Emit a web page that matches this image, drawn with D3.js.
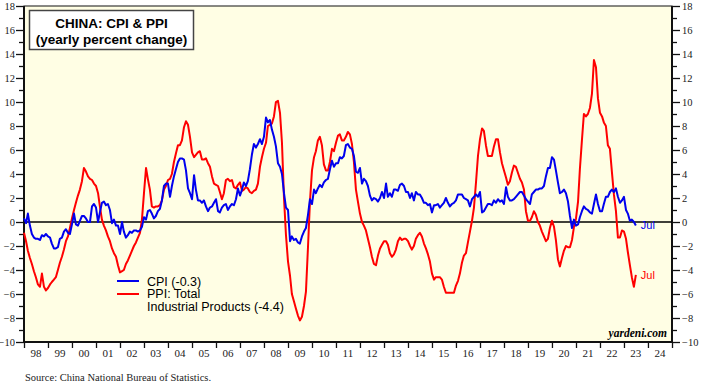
<!DOCTYPE html>
<html lang="en">
<head>
<meta charset="UTF-8">
<title>China: CPI & PPI</title>
<style>
body { margin: 0; background: #fff; }
svg { display: block; }
.tick text { font-family: "Liberation Serif", "Times New Roman", serif; font-size: 10.5px; fill: #222; }
</style>
</head>
<body>
<svg id="chart" width="704" height="392"></svg>
<script src="https://d3js.org/d3.v7.min.js"></script>
<script>
// monthly series, yearly percent change, starting Jan 1998
const startYear = 1998;
const cpi = [
  0.3, -0.1, 0.7, -0.3, -1.0, -1.3, -1.4, -1.4, -1.5, -1.1, -1.2, -1.0,   // 98
  -1.2, -1.3, -1.8, -2.2, -2.2, -2.1, -1.4, -1.3, -0.8, -0.6, -0.9, -1.0, // 99
  -0.2, 0.7, -0.2, -0.3, 0.1, 0.5, 0.5, 0.3, 0.0, 0.0, 1.3, 1.5,          // 00
  1.2, 0.0, 0.8, 1.6, 1.7, 1.4, 1.5, 1.0, -0.1, 0.2, -0.3, -0.3,          // 01
  -1.0, 0.0, -0.8, -1.3, -1.1, -0.8, -0.9, -0.7, -0.7, -0.8, -0.7, -0.4,  // 02
  0.4, 0.2, 0.9, 1.0, 0.7, 0.3, 0.5, 0.9, 1.1, 1.8, 3.0, 3.2,             // 03
  3.2, 2.1, 3.0, 3.8, 4.4, 5.0, 5.3, 5.3, 5.2, 4.3, 2.8, 2.4,             // 04
  1.9, 3.9, 2.7, 1.8, 1.8, 1.6, 1.8, 1.3, 0.9, 1.2, 1.3, 1.6,             // 05
  1.9, 0.9, 0.8, 1.2, 1.4, 1.5, 1.0, 1.3, 1.5, 1.4, 1.9, 2.8,             // 06
  2.2, 2.7, 3.3, 3.0, 3.4, 4.4, 5.6, 6.5, 6.2, 6.5, 6.9, 6.5,             // 07
  7.1, 8.7, 8.3, 8.5, 7.7, 7.1, 6.3, 4.9, 4.6, 4.0, 2.4, 1.2,             // 08
  1.0, -1.6, -1.2, -1.5, -1.4, -1.7, -1.8, -1.2, -0.8, -0.5, 0.6, 1.9,    // 09
  1.5, 2.7, 2.4, 2.8, 3.1, 2.9, 3.3, 3.5, 3.6, 4.4, 5.1, 4.6,             // 10
  4.9, 4.9, 5.4, 5.3, 5.5, 6.4, 6.5, 6.2, 6.1, 5.5, 4.2, 4.1,             // 11
  4.5, 3.2, 3.6, 3.4, 3.0, 2.2, 1.8, 2.0, 1.9, 1.7, 2.0, 2.5,             // 12
  2.0, 3.2, 2.1, 2.4, 2.1, 2.7, 2.7, 2.6, 3.1, 3.2, 3.0, 2.5,             // 13
  2.5, 2.0, 2.4, 1.8, 2.5, 2.3, 2.3, 2.0, 1.6, 1.6, 1.4, 1.5,             // 14
  0.8, 1.4, 1.4, 1.5, 1.2, 1.4, 1.6, 2.0, 1.6, 1.3, 1.5, 1.6,             // 15
  1.8, 2.3, 2.3, 2.3, 2.0, 1.9, 1.8, 1.3, 1.9, 2.1, 2.3, 2.1,             // 16
  2.5, 0.8, 0.9, 1.2, 1.5, 1.5, 1.4, 1.8, 1.6, 1.9, 1.7, 1.8,             // 17
  1.5, 2.9, 2.1, 1.8, 1.8, 1.9, 2.1, 2.3, 2.5, 2.5, 2.2, 1.9,             // 18
  1.7, 1.5, 2.3, 2.5, 2.7, 2.7, 2.8, 2.8, 3.0, 3.8, 4.5, 4.5,             // 19
  5.4, 5.2, 4.3, 3.3, 2.4, 2.5, 2.7, 2.4, 1.7, 0.5, -0.5, 0.2,            // 20
  -0.3, -0.2, 0.4, 0.9, 1.3, 1.1, 1.0, 0.8, 0.7, 1.5, 2.3, 1.5,           // 21
  0.9, 0.9, 1.5, 2.1, 2.1, 2.5, 2.7, 2.5, 2.8, 2.1, 1.6, 1.8,             // 22
  2.1, 1.0, 0.7, 0.1, 0.2, 0.0, -0.3                                      // 23
];
const ppi = [
  -0.9, -1.6, -2.4, -3.0, -3.5, -4.1, -4.6, -5.2, -5.4, -4.3, -5.4, -5.7, // 98
  -5.5, -5.2, -5.0, -4.8, -4.6, -4.0, -3.4, -2.9, -2.3, -1.6, -1.2, -0.5, // 99
  0.3, 1.0, 1.6, 2.2, 2.7, 3.4, 4.5, 4.2, 3.8, 3.6, 3.5, 3.2,             // 00
  3.0, 2.4, 1.3, 0.2, -0.3, -0.7, -1.2, -1.6, -2.2, -2.6, -2.9, -3.6,     // 01
  -4.2, -4.1, -4.0, -3.5, -3.2, -2.8, -2.4, -2.0, -1.7, -1.3, -0.9, 0.2,  // 02
  2.4, 4.5, 3.6, 2.7, 1.3, 1.2, 1.3, 1.3, 1.4, 1.8, 2.7, 3.0,             // 03
  3.5, 3.6, 4.0, 5.0, 5.7, 6.4, 6.4, 6.8, 7.9, 8.4, 8.1, 7.1,             // 04
  5.8, 5.4, 5.6, 5.8, 5.9, 5.2, 5.2, 5.3, 4.9, 4.6, 3.8, 3.2,             // 05
  3.1, 3.0, 2.5, 1.9, 2.4, 3.5, 3.6, 3.4, 3.5, 2.9, 2.8, 3.1,             // 06
  3.3, 2.6, 2.7, 2.9, 2.8, 2.5, 2.4, 2.6, 2.7, 3.2, 4.6, 5.4,             // 07
  6.1, 6.6, 8.0, 8.1, 8.2, 8.8, 10.0, 10.1, 9.1, 6.6, 2.0, -1.1,          // 08
  -3.3, -4.5, -6.0, -6.6, -7.2, -7.8, -8.2, -7.9, -7.0, -5.8, -2.1, 1.7,  // 09
  4.3, 5.4, 5.9, 6.8, 7.1, 6.4, 4.8, 4.3, 4.3, 5.0, 6.1, 5.9,             // 10
  6.6, 7.2, 7.3, 6.8, 6.8, 7.1, 7.5, 7.3, 6.5, 5.0, 2.7, 1.7,             // 11
  0.7, 0.0, -0.3, -0.7, -1.4, -2.1, -2.9, -3.5, -3.6, -2.8, -2.2, -1.9,   // 12
  -1.6, -1.6, -1.9, -2.6, -2.9, -2.7, -2.3, -1.6, -1.3, -1.5, -1.4, -1.4, // 13
  -1.6, -2.0, -2.3, -2.0, -1.4, -1.1, -0.9, -1.2, -1.8, -2.2, -2.7, -3.3, // 14
  -4.3, -4.8, -4.6, -4.6, -4.6, -4.8, -5.4, -5.9, -5.9, -5.9, -5.9, -5.9, // 15
  -5.3, -4.9, -4.3, -3.4, -2.8, -2.6, -1.7, -0.8, 0.1, 1.2, 3.3, 5.5,     // 16
  6.9, 7.8, 7.6, 6.4, 5.5, 5.5, 5.5, 6.3, 6.9, 6.9, 5.8, 4.9,             // 17
  4.3, 3.7, 3.1, 3.4, 4.1, 4.7, 4.6, 4.1, 3.6, 3.3, 2.7, 0.9,             // 18
  0.1, 0.1, 0.4, 0.9, 0.6, 0.0, -0.3, -0.8, -1.2, -1.6, -1.4, -0.5,       // 19
  0.1, -0.4, -1.5, -3.1, -3.7, -3.0, -2.4, -2.0, -2.1, -2.1, -1.5, -0.4,  // 20
  0.3, 1.7, 4.4, 6.8, 9.0, 8.8, 9.0, 9.5, 10.7, 13.5, 12.9, 10.3,         // 21
  9.1, 8.8, 8.3, 8.0, 6.4, 6.1, 4.2, 2.3, 0.9, -1.3, -1.3, -0.7,          // 22
  -0.8, -1.4, -2.5, -3.6, -4.6, -5.4, -4.4                                // 23
];
const yearLabels = ["98","99","00","01","02","03","04","05","06","07","08","09","10","11","12","13","14","15","16","17","18","19","20","21","22","23","24"];
const yTicks = d3.range(-10, 19, 2);

const svg = d3.select("#chart");
const plotL = 24, plotR = 672, plotT = 6, plotB = 342;

const x = d3.scaleTime()
    .domain([new Date(1998, 0, 1), new Date(2025, 0, 1)])
    .range([plotL, plotR]);
const y = d3.scaleLinear().domain([-10, 18]).range([plotB, plotT]);

// plot background
svg.append("rect")
    .attr("x", plotL).attr("y", plotT)
    .attr("width", plotR - plotL).attr("height", plotB - plotT)
    .attr("fill", "#fffee4");

// y axes (major even, minor odd)
function yAxis(side) {
    const isLeft = side === "left";
    const major = (isLeft ? d3.axisLeft(y) : d3.axisRight(y))
        .tickValues(yTicks).tickSize(8).tickPadding(isLeft ? 1 : 2)
        .tickFormat(d3.format("d"));
    const g = svg.append("g")
        .attr("transform", `translate(${isLeft ? plotL : plotR},0)`)
        .call(major);
    g.select(".domain").remove();
    const minor = (isLeft ? d3.axisLeft(y) : d3.axisRight(y))
        .tickValues(d3.range(-9, 18, 2)).tickSize(5).tickFormat("");
    const g2 = svg.append("g")
        .attr("transform", `translate(${isLeft ? plotL : plotR},0)`)
        .call(minor);
    g2.select(".domain").remove();
    svg.selectAll(".tick line").attr("stroke", "#111").attr("stroke-width", 1.3);
}
yAxis("left");
yAxis("right");

// x axis: ticks at year boundaries, labels centered in between
const years = d3.range(1998, 2026).map(v => new Date(v, 0, 1));
const xg = svg.append("g")
    .attr("transform", `translate(0,${plotB})`)
    .call(d3.axisBottom(x).tickValues(years).tickSize(6).tickFormat(""));
xg.select(".domain").remove();
xg.selectAll(".tick line").attr("stroke", "#111").attr("stroke-width", 1.3);

svg.append("g").selectAll("text")
    .data(yearLabels)
    .enter().append("text")
    .attr("x", (d, i) => x(new Date(1998 + i, 6, 1)))
    .attr("y", plotB + 15)
    .attr("text-anchor", "middle")
    .attr("font-family", "Liberation Serif, Times New Roman, serif")
    .attr("font-size", 11)
    .attr("fill", "#222")
    .text(d => d);

// frame
svg.append("rect")
    .attr("x", plotL).attr("y", plotT)
    .attr("width", plotR - plotL).attr("height", plotB - plotT)
    .attr("fill", "none").attr("stroke", "#111").attr("stroke-width", 1);
svg.append("line").attr("x1", plotL).attr("x2", plotL).attr("y1", plotT).attr("y2", plotB)
    .attr("stroke", "#111").attr("stroke-width", 2);
svg.append("line").attr("x1", plotR).attr("x2", plotR).attr("y1", plotT).attr("y2", plotB)
    .attr("stroke", "#111").attr("stroke-width", 2);
svg.append("line").attr("x1", plotL).attr("x2", plotR).attr("y1", plotB).attr("y2", plotB)
    .attr("stroke", "#111").attr("stroke-width", 2);

// zero line
svg.append("line")
    .attr("x1", plotL).attr("x2", plotR)
    .attr("y1", y(0)).attr("y2", y(0))
    .attr("stroke", "#000").attr("stroke-width", 1.5);

// series
const dateOf = i => new Date(startYear, i, 1);
const line = d3.line()
    .x((d, i) => x(dateOf(i)))
    .y(d => y(d));

svg.append("path").datum(ppi)
    .attr("d", line).attr("fill", "none")
    .attr("stroke", "#ff0000").attr("stroke-width", 2).attr("stroke-linejoin", "round");
svg.append("path").datum(cpi)
    .attr("d", line).attr("fill", "none")
    .attr("stroke", "#0000ee").attr("stroke-width", 2).attr("stroke-linejoin", "round");

// end labels
const endLabel = (arr, color) => svg.append("text")
    .attr("x", x(dateOf(arr.length - 1)) + 5)
    .attr("y", y(arr[arr.length - 1]))
    .attr("dy", "0.35em")
    .attr("font-family", "Liberation Sans, Arial, sans-serif")
    .attr("font-size", 11)
    .attr("fill", color)
    .text("Jul");
endLabel(cpi, "#0000ee");
endLabel(ppi, "#ff0000");

// title box
svg.append("rect")
    .attr("x", 29.5).attr("y", 10.5).attr("width", 164).attr("height", 39)
    .attr("fill", "#fff").attr("stroke", "#444").attr("stroke-width", 1.5);
svg.append("text")
    .attr("x", 111.5).attr("y", 28)
    .attr("text-anchor", "middle")
    .attr("font-family", "Liberation Sans, Arial, sans-serif")
    .attr("font-size", 13.5).attr("font-weight", "bold")
    .text("CHINA: CPI & PPI");
svg.append("text")
    .attr("x", 111.5).attr("y", 44)
    .attr("text-anchor", "middle")
    .attr("font-family", "Liberation Sans, Arial, sans-serif")
    .attr("font-size", 13.5).attr("font-weight", "bold")
    .text("(yearly percent change)");

// legend
const legend = svg.append("g").attr("font-family", "Liberation Sans, Arial, sans-serif").attr("font-size", 12.5);
legend.append("line").attr("x1", 117).attr("x2", 139).attr("y1", 281).attr("y2", 281)
    .attr("stroke", "#0000ee").attr("stroke-width", 2);
legend.append("text").attr("x", 147).attr("y", 285.5).text("CPI (-0.3)");
legend.append("line").attr("x1", 117).attr("x2", 139).attr("y1", 294).attr("y2", 294)
    .attr("stroke", "#ff0000").attr("stroke-width", 2);
legend.append("text").attr("x", 147).attr("y", 298).text("PPI: Total");
legend.append("text").attr("x", 147).attr("y", 311).text("Industrial Products (-4.4)");

// watermark & source
svg.append("text")
    .attr("x", 667).attr("y", 337)
    .attr("text-anchor", "end")
    .attr("font-family", "Liberation Serif, Times New Roman, serif")
    .attr("font-size", 11.5).attr("font-weight", "bold").attr("font-style", "italic")
    .text("yardeni.com");
svg.append("text")
    .attr("x", 25).attr("y", 381)
    .attr("font-family", "Liberation Serif, Times New Roman, serif")
    .attr("font-size", 10.5)
    .attr("fill", "#222")
    .text("Source: China National Bureau of Statistics.");
</script>
</body>
</html>
